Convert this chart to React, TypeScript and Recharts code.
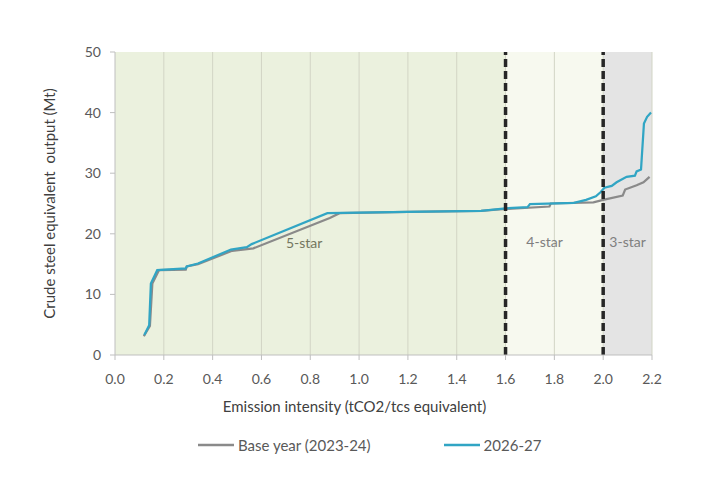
import { LineChart, Line, XAxis, YAxis, ReferenceArea, ReferenceLine, ReferenceDot, Legend } from 'recharts';

// emission intensity (tCO2/tcs) vs cumulative crude steel output (Mt)
const baseX = [0.118, 0.143, 0.153, 0.18, 0.29, 0.294, 0.34, 0.48, 0.567, 0.88, 0.92, 1.2, 1.5, 1.6, 1.78, 1.785, 1.96, 2.0, 2.08, 2.09, 2.137, 2.165, 2.19];
const baseY = [3.1, 4.8, 11.8, 14.0, 14.1, 14.6, 15.0, 17.2, 17.6, 22.6, 23.4, 23.6, 23.8, 24.1, 24.5, 25.0, 25.2, 25.6, 26.3, 27.3, 28.0, 28.5, 29.4];

const futureX = [0.12, 0.14, 0.147, 0.173, 0.29, 0.294, 0.34, 0.475, 0.54, 0.56, 0.87, 1.2, 1.5, 1.6, 1.69, 1.7, 1.88, 1.93, 1.97, 1.99, 2.005, 2.035, 2.055, 2.096, 2.13, 2.137, 2.155, 2.167, 2.18, 2.196];
const futureY = [3.3, 4.9, 11.8, 14.0, 14.3, 14.6, 15.1, 17.4, 17.8, 18.3, 23.4, 23.6, 23.8, 24.2, 24.4, 24.9, 25.1, 25.6, 26.2, 26.9, 27.6, 27.9, 28.5, 29.4, 29.6, 30.3, 30.6, 38.2, 39.3, 40.0];

const xTicks = [0, 0.2, 0.4, 0.6, 0.8, 1.0, 1.2, 1.4, 1.6, 1.8, 2.0, 2.2];
const yTicks = [0, 10, 20, 30, 40, 50];

// star bands
const bandFrom = [0, 1.6, 2.0];
const bandTo = [1.6, 2.0, 2.2];
const bandLabels = ['5-star', '4-star', '3-star'];
const bandLabelX = [0.775, 1.76, 2.1];
const bandLabelY = [18.5, 18.7, 18.7];
const bandColors = ['#EBF1DE', '#F7F9EF', '#E4E4E4'];

const seriesNames = ['Base year (2023-24)', '2026-27'];
const seriesColors = ['#8A8A8A', '#31A5C4'];

const baseData = baseX.map((x, i) => ({ x, y: baseY[i] }));
const futureData = futureX.map((x, i) => ({ x, y: futureY[i] }));

const font = 'Lato, "Open Sans", sans-serif';

function LegendBox() {
  return (
    <div style={{ display: 'flex', paddingLeft: 198, gap: 73, fontFamily: font, fontSize: 15, color: '#595959' }}>
      {seriesNames.map((n, i) => (
        <div key={n} style={{ display: 'flex', alignItems: 'center' }}>
          <svg width={36} height={10}>
            <line x1={0} y1={5} x2={36} y2={5} stroke={seriesColors[i]} strokeWidth={2.5} />
          </svg>
          <span style={{ marginLeft: 4 }}>{n}</span>
        </div>
      ))}
    </div>
  );
}

export default function App() {
  return (
    <div style={{ position: 'absolute', left: 0, top: 0, background: '#fff' }}>
      <LineChart width={724} height={481} margin={{ top: 52, right: 72, left: 43, bottom: 48 }}>
        {bandFrom.map((f, i) => (
          <ReferenceArea key={'a' + i} x1={f} x2={bandTo[i]} y1={0} y2={50} fill={bandColors[i]} fillOpacity={1} stroke="none" ifOverflow="visible" />
        ))}
        {xTicks.slice(1).map((t) => (
          <ReferenceLine key={'g' + t} x={t} stroke="#D2D5C5" strokeWidth={1} />
        ))}
        <XAxis
          type="number"
          dataKey="x"
          domain={[0, 2.2]}
          ticks={xTicks}
          tickFormatter={(v) => v.toFixed(1)}
          allowDataOverflow
          height={60}
          stroke="#BFBFBF"
          tickSize={5}
          tickMargin={14}
          tick={{ fill: '#595959', fontSize: 14, fontFamily: font }}
          label={{ value: 'Emission intensity (tCO2/tcs equivalent)', position: 'insideBottom', offset: 3, dx: -29, fill: '#404040', fontSize: 15, fontFamily: font }}
        />
        <YAxis
          type="number"
          domain={[0, 50]}
          ticks={yTicks}
          width={72}
          stroke="#BFBFBF"
          tickSize={5}
          tickMargin={9}
          tick={{ fill: '#595959', fontSize: 14, fontFamily: font }}
          label={{ value: 'Crude steel equivalent\u00a0 output (Mt)', angle: -90, position: 'insideLeft', offset: 7, fill: '#404040', fontSize: 15, fontFamily: font, style: { textAnchor: 'middle' } }}
        />
        <Line data={baseData} dataKey="y" name={seriesNames[0]} type="linear" stroke={seriesColors[0]} strokeWidth={2.25} dot={false} isAnimationActive={false} />
        <Line data={futureData} dataKey="y" name={seriesNames[1]} type="linear" stroke={seriesColors[1]} strokeWidth={2.25} dot={false} isAnimationActive={false} />
        {bandLabels.map((l, i) => (
          <ReferenceDot key={l} x={bandLabelX[i]} y={bandLabelY[i]} r={0} fill="none" stroke="none"
            label={{ value: l, position: 'center', fill: i === 0 ? '#74765F' : '#7F7F7F', fontSize: 14, fontFamily: font }} />
        ))}
        <ReferenceLine x={1.6} stroke="#262626" strokeWidth={3.5} strokeDasharray="8 4" />
        <ReferenceLine x={2.0} stroke="#262626" strokeWidth={3.5} strokeDasharray="8 4" />
        <Legend verticalAlign="bottom" content={<LegendBox />} wrapperStyle={{ top: 436, left: 0, width: 724 }} />
      </LineChart>
    </div>
  );
}
